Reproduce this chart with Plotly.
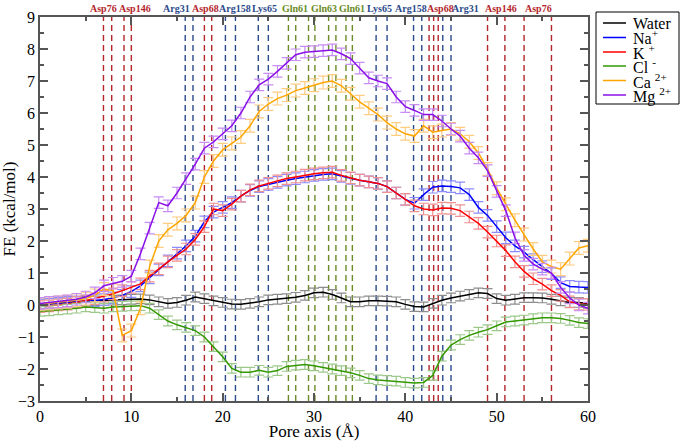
import plotly.graph_objects as go

# ---------------- data ----------------
pore_x = list(range(0, 61))

water = [0.03, 0.05, 0.07, 0.10, 0.11, 0.12, 0.13, 0.14, 0.15, 0.16, 0.18, 0.19, 0.16, 0.10, 0.05, 0.08,
         0.15, 0.25, 0.20, 0.13, 0.08, 0.03, 0.02, 0.05, 0.10, 0.16, 0.18, 0.20, 0.24, 0.30, 0.38, 0.40,
         0.33, 0.22, 0.10, 0.10, 0.13, 0.13, 0.12, 0.10, 0.02, -0.05, -0.06, 0.05, 0.15, 0.22, 0.28, 0.33,
         0.38, 0.36, 0.20, 0.15, 0.18, 0.23, 0.23, 0.22, 0.18, 0.13, 0.08, 0.08, 0.05]

sodium = [0.00, 0.03, 0.05, 0.08, 0.10, 0.12, 0.14, 0.17, 0.22, 0.30, 0.42, 0.60, 0.85, 1.10, 1.38, 1.62,
          1.85, 2.15, 2.60, 2.90, 3.05, 3.20, 3.40, 3.58, 3.70, 3.77, 3.83, 3.90, 3.95, 4.00, 4.05, 4.08,
          4.10, 4.02, 3.96, 3.90, 3.85, 3.80, 3.70, 3.50, 3.30, 3.18, 3.45, 3.68, 3.72, 3.70, 3.66, 3.45,
          3.05, 2.80, 2.45, 2.10, 1.85, 1.65, 1.42, 1.20, 0.98, 0.70, 0.58, 0.56, 0.55]

potassium = [-0.05, -0.03, 0.00, 0.03, 0.08, 0.13, 0.20, 0.28, 0.35, 0.45, 0.55, 0.66, 0.90, 1.13, 1.35, 1.55,
             1.75, 2.05, 2.45, 3.00, 2.95, 3.15, 3.40, 3.60, 3.72, 3.80, 3.88, 3.95, 4.00, 4.06, 4.10, 4.13,
             4.15, 4.05, 3.97, 3.90, 3.85, 3.80, 3.70, 3.50, 3.30, 3.10, 3.00, 2.97, 3.03, 3.02, 2.95, 2.75,
             2.55, 2.28, 2.00, 1.70, 1.35, 1.05, 0.82, 0.65, 0.45, 0.30, 0.10, 0.03, 0.02]

chloride = [-0.20, -0.18, -0.15, -0.13, -0.10, -0.06, -0.08, -0.10, -0.06, -0.04, -0.03, -0.02, -0.10, -0.30,
            -0.50, -0.62, -0.70, -0.80, -1.00, -1.30, -1.62, -1.98, -2.10, -2.10, -2.04, -2.10, -2.05, -1.92,
            -1.88, -1.86, -1.90, -1.95, -2.00, -2.05, -2.12, -2.20, -2.30, -2.34, -2.36, -2.38, -2.42, -2.44,
            -2.42, -2.20, -1.60, -1.25, -1.08, -0.95, -0.85, -0.77, -0.65, -0.53, -0.50, -0.47, -0.43, -0.40,
            -0.40, -0.42, -0.48, -0.55, -0.58]

calcium = [0.02, 0.05, 0.08, 0.10, 0.15, 0.20, 0.30, 0.50, 0.45, -0.95, -0.80, -0.10, 1.20, 2.00, 2.35, 2.55,
           2.80, 3.20, 4.00, 4.50, 4.85, 5.05, 5.25, 5.60, 6.05, 6.28, 6.45, 6.56, 6.70, 6.78, 6.87, 6.95,
           7.00, 6.85, 6.60, 6.35, 6.15, 5.95, 5.70, 5.50, 5.35, 5.28, 5.60, 5.40, 5.45, 5.50, 5.35, 5.10,
           4.75, 4.25, 3.65, 3.15, 2.65, 2.20, 1.75, 1.35, 1.20, 1.12, 1.45, 1.78, 1.85]

magnesium = [0.05, 0.08, 0.10, 0.13, 0.18, 0.25, 0.38, 0.60, 0.68, 0.74, 0.90, 1.60, 2.40, 3.20, 3.10, 3.50,
             3.95, 4.40, 4.90, 5.10, 5.35, 5.60, 6.00, 6.50, 6.88, 7.06, 7.30, 7.55, 7.82, 7.90, 7.92, 7.95,
             7.97, 7.85, 7.70, 7.40, 7.10, 7.00, 6.92, 6.50, 6.20, 6.08, 5.95, 5.95, 5.75, 5.50, 5.28, 4.90,
             4.60, 4.20, 3.55, 2.95, 2.10, 1.55, 1.28, 1.12, 1.00, 0.55, 0.22, 0.00, -0.10]

# error bar half-widths (kcal/mol)
water_err, sodium_err, potassium_err = 0.15, 0.18, 0.18
chloride_err, calcium_err, magnesium_err = 0.15, 0.20, 0.18

series_names = ["Water", "Na<sup>+</sup>", "K <sup>+</sup>", "Cl <sup>-</sup>", "Ca <sup>2+</sup>", "Mg <sup>2+</sup>"]
series_values = [water, sodium, potassium, chloride, calcium, magnesium]
series_errors = [water_err, sodium_err, potassium_err, chloride_err, calcium_err, magnesium_err]

# residue positions along the pore (Å) – dashed marker lines
asp_lines = [6.95, 7.85, 9.2, 10.0, 18.0, 18.8, 42.6, 43.1, 43.6, 49.0, 50.9, 53.0, 56.0]
basic_lines = [15.9, 16.75, 20.3, 21.4, 23.9, 25.0, 36.8, 38.0, 40.9, 41.8, 44.1, 45.0]
gln_lines = [27.2, 28.0, 29.4, 30.1, 31.6, 32.4, 33.5, 34.2]

residue_labels = ["Asp76", "Asp146", "Arg31", "Asp68", "Arg158", "Lys65", "Gln61", "Gln63", "Gln61",
                  "Lys65", "Arg158", "Asp68", "Arg31", "Asp146", "Asp76"]
residue_label_x = [7.0, 10.35, 14.9, 18.1, 21.3, 24.6, 27.9, 31.1, 34.2, 37.2, 40.6, 43.8, 46.6, 50.5, 54.6]
residue_kind = ["acid", "acid", "basic", "acid", "basic", "basic", "gln", "gln", "gln",
                "basic", "basic", "acid", "basic", "acid", "acid"]

# ---------------- styling ----------------
line_colors = ["#000000", "#0000ff", "#ff0000", "#339900", "#ffa500", "#8a10e8"]
err_colors = ["#8c8c8c", "#8c8cff", "#f09090", "#9cc88a", "#ffcc80", "#c88cf5"]
kind_colors = {"acid": "#b3262b", "basic": "#2b4a8c", "gln": "#6b8c26"}

FONT = "Times New Roman, Liberation Serif, DejaVu Serif, serif"
W, H = 680, 441
L, R, T, B = 40, 92, 17, 40
PW, PH = W - L - R, H - T - B


def pxx(px):
    return (px - L) / PW


def pxy(py):
    return 1 - (py - T) / PH


fig = go.Figure()

for name, vals, err, lc, ec in zip(series_names, series_values, series_errors, line_colors, err_colors):
    fig.add_trace(go.Scatter(
        x=pore_x, y=vals, mode="lines", name=name, showlegend=False,
        line=dict(color=lc, width=1.5),
        error_y=dict(type="constant", value=err, color=ec, thickness=1.2, width=5),
    ))

shapes = []
for xs, kind in [(asp_lines, "acid"), (basic_lines, "basic"), (gln_lines, "gln")]:
    for xv in xs:
        shapes.append(dict(type="line", xref="x", yref="y", x0=xv, x1=xv, y0=-3, y1=9,
                           line=dict(color=kind_colors[kind], width=1.4, dash="6px,4px"),
                           layer="below"))

annotations = []
for lab, xv, kind in zip(residue_labels, residue_label_x, residue_kind):
    annotations.append(dict(x=xv, y=pxy(8), xref="x", yref="paper", text="<b>%s</b>" % lab,
                            showarrow=False, xanchor="center", yanchor="middle",
                            font=dict(family=FONT, size=10, color=kind_colors[kind])))

# manual legend
shapes.append(dict(type="rect", xref="paper", yref="paper", x0=pxx(596), x1=pxx(679),
                   y0=pxy(104), y1=pxy(12), line=dict(color="#000000", width=1),
                   fillcolor="white", layer="above"))
leg_y = [23, 37.5, 52, 66, 80.5, 95]
for name, lc, ly in zip(series_names, line_colors, leg_y):
    shapes.append(dict(type="line", xref="paper", yref="paper", x0=pxx(603), x1=pxx(626),
                       y0=pxy(ly), y1=pxy(ly), line=dict(color=lc, width=1.5), layer="above"))
    annotations.append(dict(x=pxx(631), y=pxy(ly), xref="paper", yref="paper", text=name,
                            showarrow=False, xanchor="left", yanchor="middle",
                            font=dict(family=FONT, size=16, color="black")))

axis_common = dict(showgrid=False, zeroline=False, showline=True, linecolor="#555555", linewidth=1.5,
                   ticks="inside", tickcolor="#555555", tickwidth=1.5, ticklen=8, mirror="allticks",
                   tickfont=dict(family=FONT, size=16, color="black"))

fig.update_layout(
    width=W, height=H, margin=dict(l=L, r=R, t=T, b=B, autoexpand=False),
    paper_bgcolor="white", plot_bgcolor="white",
    font=dict(family=FONT),
    shapes=shapes, annotations=annotations,
    xaxis=dict(range=[0, 60], tick0=0, dtick=10,
               minor=dict(dtick=5, ticks="inside", ticklen=4, tickcolor="#555555", tickwidth=1.5),
               title=dict(text="Pore axis (Å)", font=dict(family=FONT, size=17, color="black"), standoff=6),
               **axis_common),
    yaxis=dict(range=[-3, 9], tick0=0, dtick=1,
               minor=dict(dtick=0.5, ticks="inside", ticklen=4, tickcolor="#555555", tickwidth=1.5),
               title=dict(text="FE (kcal/mol)", font=dict(family=FONT, size=17, color="black"), standoff=6),
               **axis_common),
)

fig.write_html("out.html", config={"displayModeBar": False},
               post_script="document.body.style.margin='0';")
